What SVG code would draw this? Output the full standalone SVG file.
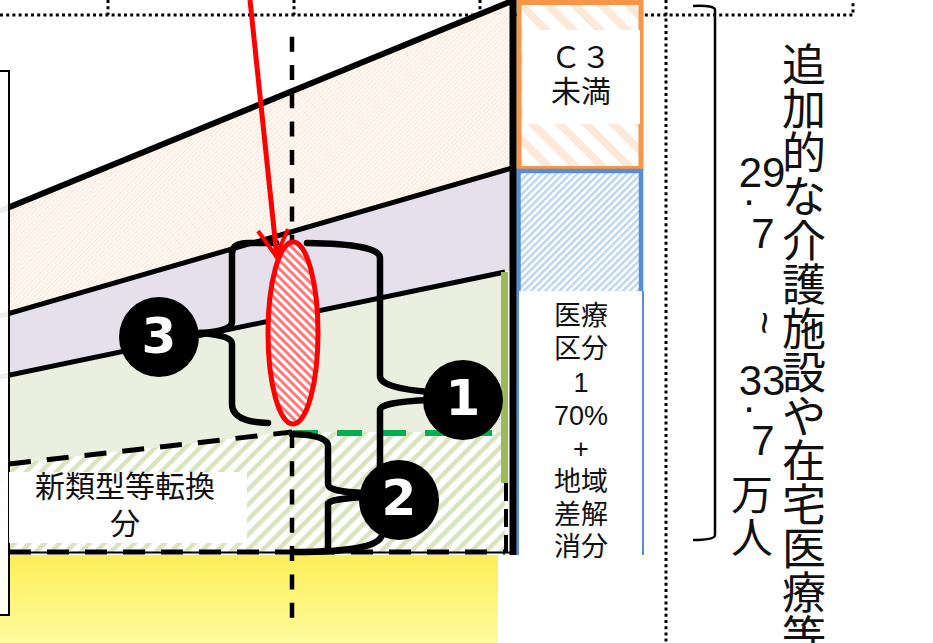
<svg xmlns="http://www.w3.org/2000/svg" width="933" height="643" viewBox="0 0 933 643">
<style>
text{font-family:"Noto Sans CJK JP","Liberation Sans",sans-serif;fill:#111;text-anchor:middle}
.l{font-family:"Liberation Sans","Noto Sans CJK JP",sans-serif}
.dot{fill:none;stroke:#000;stroke-width:3;stroke-dasharray:3 3.2}
.b{fill:none;stroke:#000;stroke-width:6.500;stroke-linecap:round}
.s{fill:none;stroke:#000}
.n{fill:#fff;font-family:"DejaVu Sans",sans-serif;font-weight:bold;font-size:50px}
</style>
<defs>
<pattern id="hO" width="3.2" height="3.2" patternUnits="userSpaceOnUse" patternTransform="rotate(45)"><rect width="3.2" height="3.2" fill="#fff"/><rect width="1.700" height="3.2" fill="#FDE9D9"/></pattern>
<pattern id="hO2" width="19" height="19" patternUnits="userSpaceOnUse" patternTransform="rotate(-45)"><rect width="19" height="19" fill="#fff"/><rect width="8" height="19" fill="#FDE9D9"/></pattern>
<pattern id="hB" width="5" height="5" patternUnits="userSpaceOnUse" patternTransform="rotate(45)"><rect width="5" height="5" fill="#fff"/><rect width="2.5" height="5" fill="#BDD5EE"/></pattern>
<pattern id="hG" width="10.6" height="10.6" patternUnits="userSpaceOnUse" patternTransform="rotate(45)"><rect width="10.6" height="10.6" fill="#fff"/><rect width="4.5" height="10.6" fill="#D8E4BE"/></pattern>
<pattern id="hR" width="6" height="6" patternUnits="userSpaceOnUse" patternTransform="rotate(-45)"><rect width="6" height="6" fill="#fff"/><rect width="3" height="6" fill="#F77"/></pattern>
<linearGradient id="y" x1="0" y1="0" x2="0" y2="1"><stop offset="0" stop-color="#FCEE58"/><stop offset="1" stop-color="#FFFC9E"/></linearGradient>
</defs>

<g id="frame">
<path class="dot" d="M0 15H853V0M108 0V15M294 0V15M480 0V15M666 0V643"/>
</g>

<g id="chart">
<rect x="0" y="555" width="498" height="88" fill="url(#y)"/>
<path d="M0 211L512 0V168L0 316Z" fill="url(#hO)"/>
<path d="M0 316L512 168V270L0 377Z" fill="#E5E0EC"/>
<path d="M0 377L505 272V432H292L0 465Z" fill="#EBEFDF"/>
<path d="M0 465L292 432H505V552H0Z" fill="url(#hG)"/>
<path d="M0 211L512 1" class="s" stroke-width="6"/>
<path d="M0 316L512 168" class="s" stroke-width="5"/>
<path d="M0 377L505 272" class="s" stroke-width="5"/>
<path d="M9 464L292 432" class="s" stroke-width="5" stroke-dasharray="22 16"/>
<path d="M9 552.5H510" class="s" stroke-width="2"/>
<path d="M9 552H505" class="s" stroke-width="5" stroke-dasharray="22 16"/>
<rect x="-10" y="71" width="19" height="544" fill="#fff" fill-opacity=".93" stroke="#000" stroke-width="2"/>
<path d="M293 433H492" fill="none" stroke="#00B050" stroke-width="6" stroke-dasharray="25 19"/>
<rect x="501" y="272" width="7" height="211" fill="#9BBB59"/>
<path d="M506 483V552" class="s" stroke-width="4" stroke-dasharray="18 8"/>
</g>

<g id="box-c3">
<rect x="519" y="2.500" width="122" height="166" fill="url(#hO2)" stroke="#F79646" stroke-width="5"/>
<rect x="523" y="30" width="117" height="94" fill="#fff"/>
<text x="581" y="68" font-size="30">Ｃ３</text>
<text x="581" y="102" font-size="30">未満</text>
</g>

<g id="box-medical">
<rect x="520" y="172" width="120" height="119" fill="url(#hB)"/>
<path d="M518.500 555V171H641V291" fill="none" stroke="#558ED5" stroke-width="4.500"/>
<rect x="519" y="291" width="123" height="264" fill="#fff"/>
<path d="M643 291V555" class="s" style="stroke:#5B8CCB" stroke-width="2"/>
<g font-size="27">
<text x="581" y="325">医療</text>
<text x="581" y="358">区分</text>
<text x="581" y="392" class="l">1</text>
<text x="581" y="425" class="l">70%</text>
<text x="581" y="458" class="l">+</text>
<text x="581" y="491">地域</text>
<text x="581" y="524">差解</text>
<text x="581" y="556">消分</text>
</g>
</g>

<rect x="509.500" y="0" width="7" height="555" fill="#000"/>

<g id="label-conversion">
<rect x="9" y="472" width="238" height="71" fill="#fff"/>
<text x="125" y="497" font-size="30">新類型等転換</text>
<text x="125" y="534" font-size="30">分</text>
</g>

<g id="connectors">
<path d="M292 36.700V630" class="s" stroke-width="4.500" stroke-dasharray="15 13.300"/>
<path class="b" d="M276 243H248Q232 243 232 254V322Q232 331 200 333"/>
<path class="b" d="M268 423Q232 422 232 404V344Q232 335 200 333"/>
<path class="b" d="M307 243Q380 244 380 258V376Q380 388 430 392"/>
<path class="b" d="M380 470V410Q380 402 430 400"/>
<path class="b" d="M292 434Q328 435 328 446V484Q328 492 365 493"/>
<path class="b" d="M328 550V504Q328 499 365 497"/>
<path class="b" d="M295 552Q378 552 382 535"/>
<path d="M250 0L277 258" fill="none" stroke="#f00" stroke-width="5"/>
<path d="M258 231L276 256L288 229" fill="none" stroke="#f00" stroke-width="4"/>
</g>

<g id="ellipse-red">
<ellipse cx="293" cy="333" rx="25" ry="91" fill="url(#hR)" stroke="#f00" stroke-width="5"/>
</g>

<g id="node-1"><circle cx="463" cy="400" r="40" fill="#000"/><text class="n" x="463" y="415">1</text></g>
<g id="node-2"><circle cx="399" cy="500" r="40" fill="#000"/><text class="n" x="399" y="515">2</text></g>
<g id="node-3"><circle cx="159" cy="337" r="40" fill="#000"/><text class="n" x="159" y="353">3</text></g>

<g id="bracket">
<path d="M693 6Q715 5 715 10V535Q715 540 693 540" fill="none" stroke="#000" stroke-width="2.500"/>
</g>

<g id="label-vertical">
<text x="804 804 804 804 804 804 804 804 804 804 804 804 804 804" y="81 125 169 213 257 301 345 389 433 477 521 565 609 653" font-size="44">追加的な介護施設や在宅医療等</text>
</g>
<g id="label-range" font-size="42">
<text class="l" x="762" y="187">29</text>
<text class="l" x="749" y="205">.</text>
<text class="l" x="763" y="248">7</text>
<text class="l" x="765" y="337" font-size="40" transform="rotate(90 765 323)">~</text>
<text class="l" x="762" y="395">33</text>
<text class="l" x="749" y="412">.</text>
<text class="l" x="763" y="455">7</text>
<text x="752" y="510">万</text>
<text x="752" y="553">人</text>
</g>
</svg>
